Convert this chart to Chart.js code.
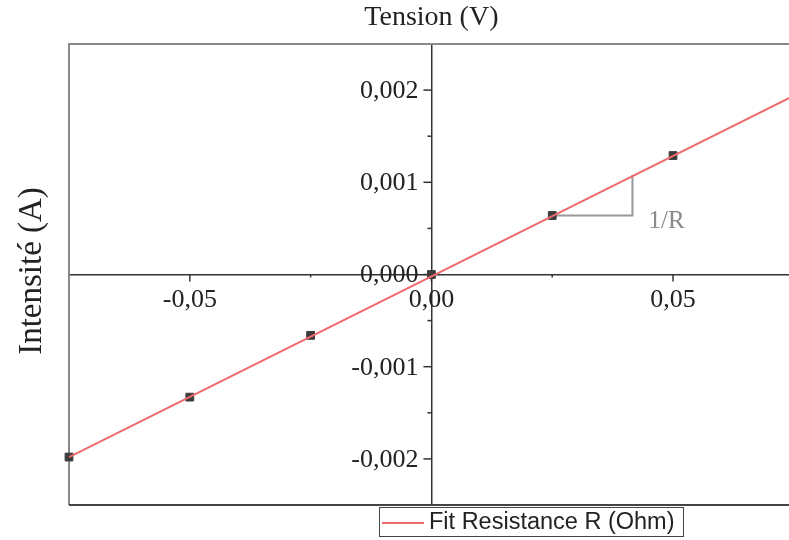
<!DOCTYPE html>
<html>
<head>
<meta charset="utf-8">
<script src="https://cdn.jsdelivr.net/npm/chart.js@4/dist/chart.umd.min.js"></script>
<style>
  html, body { margin: 0; padding: 0; background: #fff; }
  #wrap { width: 789px; height: 540px; }
</style>
</head>
<body>
<div id="wrap"><canvas id="myChart" width="789" height="540"></canvas></div>
<script>
// Mesures (tension en V, intensité en A)
const tension = [-0.075, -0.05, -0.025, 0, 0.025, 0.05];
const intensite = [-0.00198, -0.00133, -0.00066, 0, 0.00064, 0.00129];

// Droite d'ajustement (extrémités)
const fitX = [-0.075, 0.075];
const fitY = [-0.00198, 0.00194];

// Triangle de pente 1/R
const triX = [0.025, 0.0416, 0.0416];
const triY = [0.00064, 0.00064, 0.00108];

const xTicks = [-0.05, 0, 0.05];
const yTicks = [-0.002, -0.001, 0, 0.001, 0.002];

const serif = '"Liberation Serif", "Times New Roman", serif';
const sans = '"Liberation Sans", Arial, sans-serif';

function fmt(v, dec) {
    return v.toFixed(dec).replace('.', ',');
}

const decor = {
    id: 'decor',
    beforeDatasetsDraw(chart) {
        const ctx = chart.ctx;
        const a = chart.chartArea;
        const xs = chart.scales.x, ys = chart.scales.y;
        ctx.save();
        // cadre
        ctx.lineWidth = 2;
        ctx.strokeStyle = '#8a8a8a';
        ctx.beginPath();
        ctx.moveTo(a.left, a.bottom);
        ctx.lineTo(a.left, a.top);
        ctx.lineTo(a.right, a.top);
        ctx.stroke();
        ctx.strokeStyle = '#444';
        ctx.beginPath();
        ctx.moveTo(a.left, a.bottom);
        ctx.lineTo(a.right, a.bottom);
        ctx.stroke();
        // graduations
        const x0 = xs.getPixelForValue(0);
        const y0 = ys.getPixelForValue(0);
        ctx.strokeStyle = '#333';
        ctx.lineWidth = 1.5;
        ys.ticks.forEach(t => {
            const major = Math.round(t.value / 0.0005) % 2 === 0;
            const y = ys.getPixelForValue(t.value);
            if (y <= a.top + 1 || y >= a.bottom - 1) return;
            ctx.beginPath();
            ctx.moveTo(x0, y);
            ctx.lineTo(x0 - (major ? 8 : 4), y);
            ctx.stroke();
        });
        xs.ticks.forEach(t => {
            const major = Math.round(t.value / 0.025) % 2 === 0;
            const x = xs.getPixelForValue(t.value);
            if (x <= a.left + 1 || x >= a.right - 1) return;
            ctx.beginPath();
            ctx.moveTo(x, y0);
            ctx.lineTo(x, y0 + (major ? 7 : 3));
            ctx.stroke();
        });
        // étiquettes des axes
        ctx.fillStyle = '#222';
        ctx.font = '26px ' + serif;
        ctx.textAlign = 'right';
        ctx.textBaseline = 'middle';
        yTicks.forEach(v => {
            ctx.fillText(fmt(v, 3), x0 - 13, ys.getPixelForValue(v) + 1);
        });
        ctx.textAlign = 'center';
        xTicks.forEach(v => {
            ctx.fillText(fmt(v, 2), xs.getPixelForValue(v), y0 + 26);
        });
        ctx.restore();
    },
    afterDraw(chart) {
        const ctx = chart.ctx;
        const xs = chart.scales.x, ys = chart.scales.y;
        ctx.save();
        // titres
        ctx.fillStyle = '#222';
        ctx.font = '28px ' + serif;
        ctx.textAlign = 'center';
        ctx.textBaseline = 'middle';
        ctx.fillText('Tension (V)', xs.getPixelForValue(0), 18);
        ctx.save();
        ctx.translate(32, 271);
        ctx.rotate(-Math.PI / 2);
        ctx.font = '33px ' + serif;
        ctx.fillText('Intensité (A)', 0, 0);
        ctx.restore();
        // annotation 1/R
        ctx.fillStyle = '#8a8a8a';
        ctx.font = '25px ' + serif;
        ctx.textAlign = 'left';
        ctx.fillText('1/R', xs.getPixelForValue(triX[1]) + 16, ys.getPixelForValue(triY[0]) + 6);
        // légende
        ctx.strokeStyle = '#444';
        ctx.lineWidth = 1;
        ctx.strokeRect(379.5, 507.5, 304, 29);
        ctx.strokeStyle = '#f06a6a';
        ctx.lineWidth = 2;
        ctx.beginPath();
        ctx.moveTo(382, 523);
        ctx.lineTo(424, 523);
        ctx.stroke();
        ctx.fillStyle = '#222';
        ctx.font = '23.5px ' + sans;
        ctx.fillText('Fit Resistance R (Ohm)', 429, 523);
        ctx.restore();
    }
};

const ctx = document.getElementById('myChart').getContext('2d');
new Chart(ctx, {
    type: 'scatter',
    data: {
        datasets: [
            {
                label: 'Fit Resistance R (Ohm)',
                data: fitX.map((x, i) => ({ x: x, y: fitY[i] })),
                showLine: true,
                borderColor: '#f06a6a',
                borderWidth: 2,
                pointRadius: 0,
                order: 0
            },
            {
                label: '1/R',
                data: triX.map((x, i) => ({ x: x, y: triY[i] })),
                showLine: true,
                borderColor: '#999',
                borderWidth: 2,
                pointRadius: 0,
                order: 2
            },
            {
                label: 'Mesures',
                data: tension.map((x, i) => ({ x: x, y: intensite[i] })),
                pointStyle: 'rect',
                pointRadius: 5.5,
                backgroundColor: '#3c3c3c',
                borderColor: '#3c3c3c',
                borderWidth: 1,
                order: 1
            }
        ]
    },
    options: {
        responsive: false,
        animation: false,
        clip: false,
        layout: { autoPadding: false, padding: { left: 69, top: 44, right: 0, bottom: 35 } },
        plugins: {
            legend: { display: false },
            tooltip: { enabled: false }
        },
        scales: {
            x: {
                type: 'linear',
                position: { y: 0 },
                min: -0.075,
                max: 0.074,
                grid: { drawOnChartArea: false, drawTicks: false },
                border: { display: true, color: '#333', width: 1.5 },
                ticks: { stepSize: 0.025, autoSkip: false, display: false }
            },
            y: {
                type: 'linear',
                position: { x: 0 },
                min: -0.0025,
                max: 0.0025,
                grid: { drawOnChartArea: false, drawTicks: false },
                border: { display: true, color: '#333', width: 1.5 },
                ticks: { stepSize: 0.0005, autoSkip: false, display: false }
            }
        }
    },
    plugins: [decor]
});
</script>
</body>
</html>
